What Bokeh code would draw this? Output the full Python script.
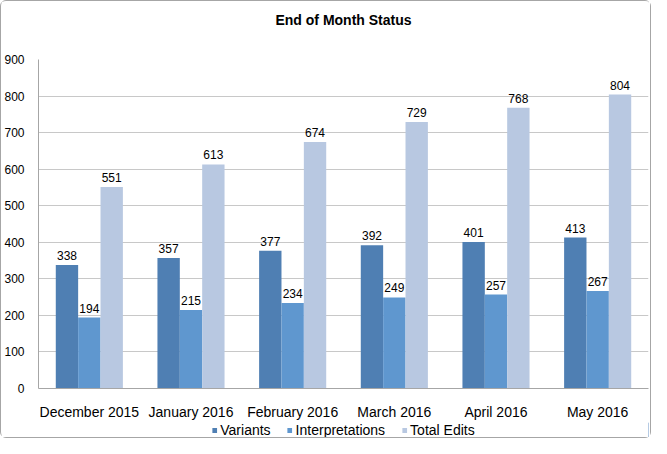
from bokeh.plotting import figure
from bokeh.models import ColumnDataSource, FactorRange, Legend, LegendItem, LabelSet, Range1d, Label
from bokeh.core.properties import value
from bokeh.layouts import column
from bokeh.transform import dodge
from bokeh.embed import file_html
from bokeh.resources import INLINE

months = ["December 2015", "January 2016", "February 2016", "March 2016", "April 2016", "May 2016"]
variants = [338, 357, 377, 392, 401, 413]
interpretations = [194, 215, 234, 249, 257, 267]
total_edits = [551, 613, 674, 729, 768, 804]
series_names = ["Variants", "Interpretations", "Total Edits"]
y_ticks = [0, 100, 200, 300, 400, 500, 600, 700, 800, 900]
chart_title = "End of Month Status"

source = ColumnDataSource(dict(month=months, variants=variants,
                               interpretations=interpretations, total=total_edits))

FONT = "Liberation Sans"
colors = ["#4f7fb3", "#5f97cf", "#b8c8e1"]
W = 649

# title strip
t = figure(width=W, height=40, x_range=Range1d(0, 1), y_range=Range1d(0, 40),
           output_backend="svg", toolbar_location=None,
           min_border_left=0, min_border_right=0, min_border_top=0, min_border_bottom=0)
t.axis.visible = False
t.grid.grid_line_color = None
t.outline_line_color = None
t.add_layout(Label(x=0.5, y=22, text=chart_title, text_align="center", text_baseline="middle",
                   text_font=FONT, text_font_size="14px", text_font_style="bold",
                   text_color="#000000"))

# main chart
p = figure(width=W, height=381, x_range=FactorRange(factors=months, range_padding=0),
           y_range=(0, 900), output_backend="svg", toolbar_location=None,
           min_border_left=36, min_border_right=2, min_border_top=18, min_border_bottom=34)

w = 0.22
cols = ["variants", "interpretations", "total"]
offs = [-w, 0, w]
for col, off, c in zip(cols, offs, colors):
    p.vbar(x=dodge("month", off, range=p.x_range), top=col, width=w, source=source,
           color=c, line_color=None)
    lbl = LabelSet(x=dodge("month", off, range=p.x_range), y=col, text=col, source=source,
                   text_align="center", text_baseline="bottom", y_offset=5,
                   text_font=value(FONT), text_font_size=value("12px"), text_color="#000000")
    p.add_layout(lbl)

p.yaxis.ticker = y_ticks
p.yaxis.major_tick_line_color = None
p.yaxis.minor_tick_line_color = None
p.yaxis.axis_line_color = "#a6a6a6"
p.yaxis.major_label_text_font = FONT
p.yaxis.major_label_text_font_size = "12px"
p.yaxis.major_label_text_color = "#000000"
p.yaxis.major_label_standoff = 8

p.xaxis.major_tick_line_color = None
p.xaxis.minor_tick_line_color = None
p.xaxis.axis_line_color = "#a6a6a6"
p.xaxis.major_label_text_font = FONT
p.xaxis.major_label_text_font_size = "14px"
p.xaxis.major_label_text_color = "#000000"
p.xaxis.major_label_standoff = 9

p.xgrid.grid_line_color = None
p.ygrid.grid_line_color = "#c8c8c8"
p.outline_line_color = None

# legend strip below the chart
q = figure(width=W, height=15, x_range=Range1d(0, 1), y_range=Range1d(0, 1),
           output_backend="svg", toolbar_location=None,
           min_border_left=0, min_border_right=0, min_border_top=0, min_border_bottom=0)
q.axis.visible = False
q.grid.grid_line_color = None
q.outline_line_color = None
items = []
for name, c in zip(series_names, colors):
    r = q.vbar(x=[5], top=[1], width=0.1, color=c, line_color=None)
    items.append(LegendItem(label=name, renderers=[r]))
legend = Legend(items=items, orientation="horizontal", location="center",
                label_text_font=FONT, label_text_font_size="14px", label_text_color="#000000",
                glyph_width=6, glyph_height=6, spacing=16, label_standoff=3,
                padding=0, margin=0, border_line_color=None, background_fill_alpha=0)
q.add_layout(legend)

lay = column(t, p, q, spacing=0)
lay.styles = {"border": "1px solid #a6a6a6", "border-radius": "6px"}
open("out.html", "w").write(file_html(lay, INLINE))
